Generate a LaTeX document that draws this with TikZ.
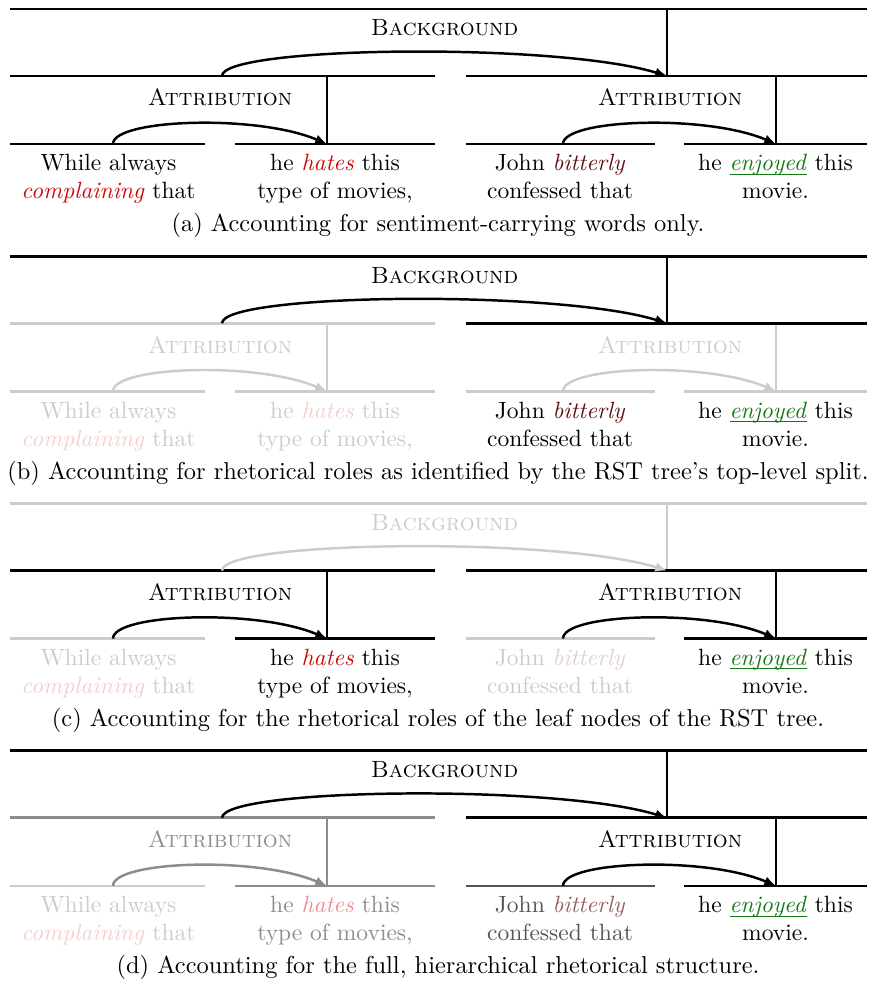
\documentclass[tikz,border=0pt]{standalone}
\usetikzlibrary{arrows.meta}
\definecolor{negc}{rgb}{0.80,0.03,0.03}
\definecolor{bitc}{rgb}{0.38,0.06,0.06}
\definecolor{posc}{rgb}{0.08,0.47,0.08}
\tikzset{
  seg/.style={line width=1.2pt},
  rel/.style={line width=1.05pt, -{Latex[length=5pt,width=4.2pt]}},
  lab/.style={font=\scshape, inner sep=0pt, anchor=base},
  leaf/.style={align=center, inner sep=0pt, anchor=north},
  captext/.style={inner sep=0pt, anchor=base, font=\fontsize{10.4}{12.5}\selectfont},
}
\newcommand\ulword[1]{\underline{\smash{#1}}}
\newcommand\rstpanel[3]{%
\begin{scope}[shift={(0,#1)}, name prefix=#3-]
  % coordinates
  \coordinate (t0) at (10,0);   \coordinate (t1) at (867,0);
  \coordinate (bgtop) at (667,0);
  \coordinate (ma0) at (10,67);  \coordinate (ma1) at (435,67);
  \coordinate (mb0) at (466,67); \coordinate (mb1) at (867,67);
  \coordinate (bgs) at (222,67); \coordinate (bge) at (667,67);
  \coordinate (aatop) at (327,67); \coordinate (abtop) at (776,67);
  \coordinate (l10) at (10,135);  \coordinate (l11) at (205,135);
  \coordinate (l20) at (235,135); \coordinate (l21) at (435,135);
  \coordinate (l30) at (466,135); \coordinate (l31) at (655,135);
  \coordinate (l40) at (684,135); \coordinate (l41) at (867,135);
  \coordinate (aas) at (113,135); \coordinate (aae) at (327,135);
  \coordinate (abs) at (563,135); \coordinate (abe) at (776,135);
  % verticals
  \draw[seg, draw=black!\iT] (bgtop) -- (bge);
  \draw[seg, draw=black!\iAa] (aatop) -- (aae);
  \draw[seg, draw=black!\iAb] (abtop) -- (abe);
  % horizontals
  \draw[seg, draw=black!\iT] (t0) -- (t1);
  \draw[seg, draw=black!\iMa] (ma0) -- (ma1);
  \draw[seg, draw=black!\iMb] (mb0) -- (mb1);
  \draw[seg, draw=black!\iLa] (l10) -- (l11);
  \draw[seg, draw=black!\iLb] (l20) -- (l21);
  \draw[seg, draw=black!\iLc] (l30) -- (l31);
  \draw[seg, draw=black!\iLd] (l40) -- (l41);
  % relation labels
  \node[lab, text=black!\iT] (bglab) at (444.5,27) {Background};
  \node[lab, text=black!\iAa] (aalab) at (220,97) {Attribution};
  \node[lab, text=black!\iAb] (ablab) at (670,97) {Attribution};
  % relation arrows
  \draw[rel, draw=black!\iT] (bgs) .. controls +(0,-30) and +(-110,-34) .. (bge);
  \draw[rel, draw=black!\iAa] (aas) .. controls +(0,-25) and +(-70,-30) .. (aae);
  \draw[rel, draw=black!\iAb] (abs) .. controls +(0,-25) and +(-70,-30) .. (abe);
  % leaves
  \node[leaf, text=black!\tA] (e1) at (108.5,145)
    {While always\\\textcolor{negc!\tA}{\textit{complaining}} that};
  \node[leaf, text=black!\tB] (e2) at (335,145)
    {he \textcolor{negc!\tB}{\textit{hates}} this\\type of movies,};
  \node[leaf, text=black!\tC] (e3) at (560,145)
    {John \textcolor{bitc!\tC}{\textit{bitterly}}\\confessed that};
  \node[leaf, text=black!\tD] (e4) at (775.5,145)
    {he \textcolor{posc!\tD}{\ulword{\textit{enjoyed}}} this\\movie.};
  % caption
  \node[captext] (cap) at (438,223) {#2};
\end{scope}}
\begin{document}
\begin{tikzpicture}[x=0.4255pt, y=-0.4255pt]
\useasboundingbox (0,0) rectangle (875,984);
% panel (a)
\def\iT{100}\def\iMa{100}\def\iMb{100}\def\iAa{100}\def\iAb{100}
\def\iLa{100}\def\iLb{100}\def\iLc{100}\def\iLd{100}
\def\tA{100}\def\tB{100}\def\tC{100}\def\tD{100}
\rstpanel{9}{(a) Accounting for sentiment-carrying words only.}{pa}
% panel (b)
\def\iT{100}\def\iMa{20}\def\iMb{100}\def\iAa{20}\def\iAb{20}
\def\iLa{20}\def\iLb{20}\def\iLc{20}\def\iLd{20}
\def\tA{20}\def\tB{20}\def\tC{100}\def\tD{100}
\rstpanel{256.3}{(b) Accounting for rhetorical roles as identified by the RST tree's top-level split.}{pb}
% panel (c)
\def\iT{20}\def\iMa{100}\def\iMb{100}\def\iAa{100}\def\iAb{100}
\def\iLa{20}\def\iLb{100}\def\iLc{20}\def\iLd{100}
\def\tA{20}\def\tB{100}\def\tC{20}\def\tD{100}
\rstpanel{503.6}{(c) Accounting for the rhetorical roles of the leaf nodes of the RST tree.}{pc}
% panel (d)
\def\iT{100}\def\iMa{45}\def\iMb{100}\def\iAa{45}\def\iAb{100}
\def\iLa{20}\def\iLb{45}\def\iLc{67}\def\iLd{100}
\def\tA{20}\def\tB{45}\def\tC{67}\def\tD{100}
\rstpanel{750.9}{(d) Accounting for the full, hierarchical rhetorical structure.}{pd}
\end{tikzpicture}
\end{document}
